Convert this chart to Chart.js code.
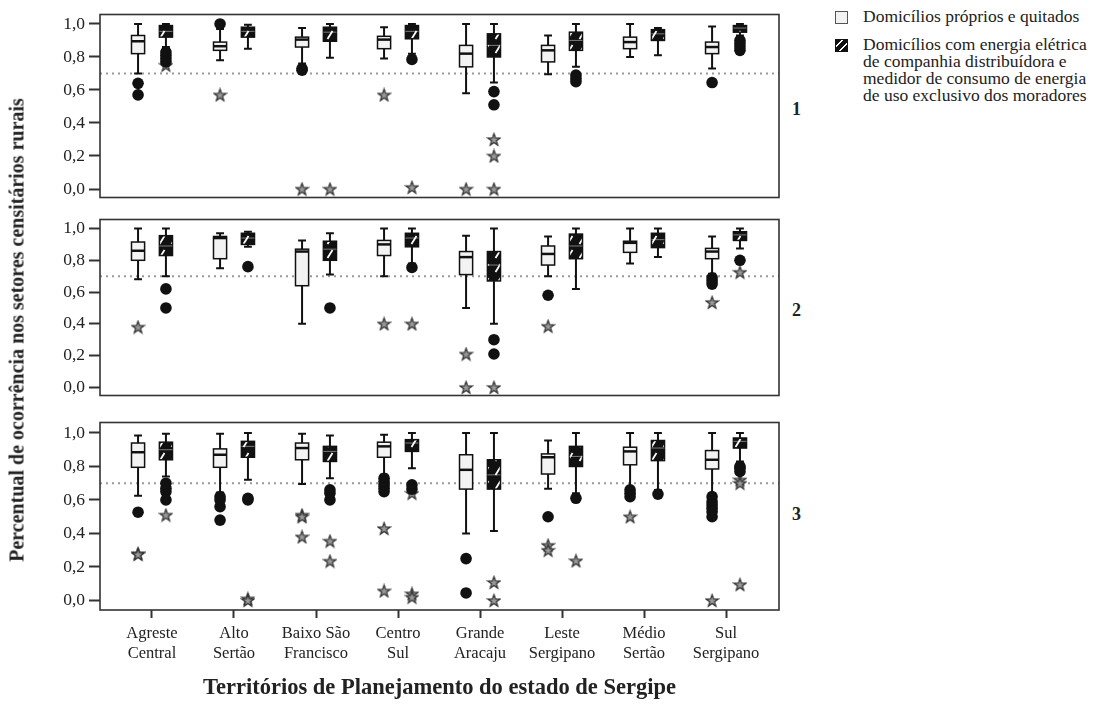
<!DOCTYPE html>
<html>
<head>
<meta charset="utf-8">
<script src="https://cdn.jsdelivr.net/npm/chart.js@4.4.1/dist/chart.umd.min.js"></script>
<style>
  body { margin: 0; width: 1099px; height: 704px; position: relative; overflow: hidden; background: #fff;
         font-family: "Liberation Serif", serif; color: #222; }
  canvas { position: absolute; left: 0; }
  .txt { position: absolute; white-space: nowrap; }
  .ytitle { left: 17px; top: 330px; transform: translate(-50%, -50%) rotate(-90deg); font-weight: bold; font-size: 20px; }
  .num { left: 792px; font-weight: bold; font-size: 18px; }
  .leg { left: 863px; font-size: 17.5px; line-height: 17px; }
  .sw { position: absolute; left: 835px; width: 11px; height: 11px; border: 1px solid #555; }
</style>
</head>
<body>
<canvas id="p1" width="790" height="212" style="top:0px"></canvas>
<canvas id="p2" width="790" height="205" style="top:205px"></canvas>
<canvas id="p3" width="790" height="296" style="top:408px"></canvas>

<div class="txt ytitle">Percentual de ocorrência nos setores censitários rurais</div>
<div class="txt num" style="top:99px">1</div>
<div class="txt num" style="top:300px">2</div>
<div class="txt num" style="top:504px">3</div>

<div class="sw" style="top:11px;background:#f2f2f2"></div>
<div class="sw" style="top:39px;background:repeating-linear-gradient(135deg,#111 0 4px,#fff 4px 5.5px);border-color:#111"></div>
<div class="txt leg" style="top:8px">Domicílios próprios e quitados</div>
<div class="txt leg" style="top:36px">Domicílios com energia elétrica<br>de companhia distribuídora e<br>medidor de consumo de energia<br>de uso exclusivo dos moradores</div>

<script>
// territórios (eixo x)
const territorios = [['Agreste', 'Central'], ['Alto', 'Sertão'], ['Baixo São', 'Francisco'], ['Centro', 'Sul'],
  ['Grande', 'Aracaju'], ['Leste', 'Sergipano'], ['Médio', 'Sertão'], ['Sul', 'Sergipano']];
const yTicks = [0, 0.2, 0.4, 0.6, 0.8, 1.0];
const referencia = 0.7;

// caixas: [bigode inferior, Q1, mediana, Q3, bigode superior]
const p1Proprios = [[0.70, 0.82, 0.895, 0.93, 1.0], [0.78, 0.84, 0.865, 0.89, 0.97], [0.76, 0.86, 0.905, 0.92, 0.975],
  [0.79, 0.85, 0.905, 0.925, 0.98], [0.58, 0.74, 0.82, 0.87, 1.0], [0.695, 0.77, 0.84, 0.87, 0.93],
  [0.80, 0.85, 0.89, 0.92, 1.0], [0.73, 0.82, 0.86, 0.89, 0.985]];
const p1Energia = [[0.86, 0.92, 0.955, 0.99, 1.0], [0.85, 0.92, 0.955, 0.98, 0.995], [0.795, 0.895, 0.95, 0.98, 1.0],
  [0.82, 0.91, 0.955, 0.99, 1.0], [0.645, 0.80, 0.87, 0.94, 1.0], [0.74, 0.84, 0.90, 0.95, 1.0],
  [0.81, 0.90, 0.94, 0.965, 0.975], [0.93, 0.95, 0.975, 0.99, 1.0]];
const p2Proprios = [[0.68, 0.80, 0.86, 0.915, 1.0], [0.75, 0.81, 0.94, 0.95, 0.97], [0.40, 0.64, 0.855, 0.87, 0.925],
  [0.70, 0.83, 0.90, 0.925, 1.0], [0.50, 0.71, 0.82, 0.855, 0.955], [0.70, 0.77, 0.84, 0.89, 0.95],
  [0.78, 0.85, 0.91, 0.92, 1.0], [0.715, 0.81, 0.855, 0.875, 0.95]];
const p2Energia = [[0.70, 0.83, 0.89, 0.955, 1.0], [0.885, 0.90, 0.94, 0.97, 0.98], [0.71, 0.80, 0.87, 0.92, 0.97],
  [0.78, 0.885, 0.94, 0.97, 1.0], [0.40, 0.67, 0.77, 0.855, 1.0], [0.62, 0.81, 0.89, 0.965, 1.0],
  [0.82, 0.88, 0.93, 0.97, 1.0], [0.875, 0.925, 0.96, 0.98, 1.0]];
const p3Proprios = [[0.625, 0.795, 0.885, 0.94, 0.985], [0.645, 0.795, 0.87, 0.905, 0.995], [0.695, 0.84, 0.91, 0.94, 0.995],
  [0.75, 0.855, 0.92, 0.945, 0.99], [0.40, 0.665, 0.78, 0.87, 1.0], [0.667, 0.755, 0.855, 0.875, 0.955],
  [0.67, 0.81, 0.89, 0.915, 1.0], [0.64, 0.785, 0.84, 0.895, 1.0]];
const p3Energia = [[0.74, 0.84, 0.90, 0.945, 0.995], [0.72, 0.855, 0.92, 0.95, 1.0], [0.73, 0.83, 0.89, 0.92, 0.985],
  [0.79, 0.89, 0.94, 0.96, 1.0], [0.415, 0.665, 0.75, 0.84, 1.0], [0.64, 0.80, 0.86, 0.92, 1.0],
  [0.66, 0.835, 0.91, 0.955, 1.0], [0.83, 0.91, 0.95, 0.97, 1.0]];

// outliers (círculos) e extremos (estrelas)
const p1ProOut = [[0.64, 0.57], [1.0], [0.73, 0.72], [], [], [], [], [0.645]];
const p1ProExt = [[], [0.57], [0.0], [0.57], [0.0], [], [], []];
const p1EneOut = [[0.83, 0.81, 0.79, 0.77], [], [], [0.785], [0.59, 0.51], [0.69, 0.67, 0.65], [], [0.90, 0.88, 0.86, 0.84]];
const p1EneExt = [[0.75], [], [0.0], [0.01], [0.30, 0.20, 0.0], [], [], []];
const p2ProOut = [[], [], [], [], [], [0.58], [], [0.69, 0.67, 0.65]];
const p2ProExt = [[0.38], [], [], [0.40], [0.21, 0.0], [0.385], [], [0.535]];
const p2EneOut = [[0.62, 0.50], [0.76], [0.50], [0.755], [0.30, 0.21], [], [], [0.80]];
const p2EneExt = [[], [], [], [0.40], [0.0], [], [], [0.725]];
const p3ProOut = [[0.527], [0.62, 0.60, 0.56, 0.48], [], [0.73, 0.71, 0.69, 0.67, 0.65], [0.25, 0.045], [0.50],
  [0.66, 0.64, 0.62], [0.62, 0.59, 0.57, 0.55, 0.53, 0.50]];
const p3ProExt = [[0.28, 0.275], [], [0.51, 0.50, 0.38], [0.43, 0.057], [], [0.33, 0.30], [0.50], [0.0]];
const p3EneOut = [[0.70, 0.67, 0.65, 0.60], [0.61, 0.60], [0.66, 0.64, 0.60], [0.69, 0.665], [], [0.61], [0.635],
  [0.80, 0.79, 0.77]];
const p3EneExt = [[0.51], [0.01, 0.0], [0.355, 0.235], [0.64, 0.04, 0.02], [0.108, 0.0], [0.237], [], [0.72, 0.70, 0.095]];

const deslocamento = [-0.17, 0.17];
const meiaLargura = 0.08;
const fonte = 'Liberation Serif';

function estrela() {
  const c = document.createElement('canvas');
  c.width = c.height = 15;
  const g = c.getContext('2d');
  g.beginPath();
  for (let k = 0; k < 10; k++) {
    const r = k % 2 ? 2.6 : 6.4;
    const a = -Math.PI / 2 + k * Math.PI / 5;
    g.lineTo(7.5 + r * Math.cos(a), 8 + r * Math.sin(a));
  }
  g.closePath();
  g.fillStyle = '#999';
  g.fill();
  g.strokeStyle = '#2a2a2a';
  g.lineWidth = 1.2;
  g.stroke();
  return c;
}

function hachura(ctx) {
  const t = document.createElement('canvas');
  t.width = 12; t.height = 14;
  const g = t.getContext('2d');
  g.fillStyle = '#111';
  g.fillRect(0, 0, 12, 14);
  g.strokeStyle = '#fff';
  g.lineWidth = 1.8;
  g.beginPath(); g.moveTo(3.5, 11); g.lineTo(8.5, 3); g.stroke();
  return ctx.createPattern(t, 'repeat');
}

function pontos(listas, s) {
  const out = [];
  listas.forEach((vals, i) => vals.forEach(v => out.push({ x: i + deslocamento[s], y: v })));
  return out;
}

function boxPlugin(series) {
  return {
    id: 'boxes',
    beforeDatasetsDraw(chart) {
      const { ctx, chartArea: a, scales: { x, y } } = chart;
      const pat = hachura(ctx);
      ctx.save();
      ctx.strokeStyle = '#999';
      ctx.lineWidth = 2;
      ctx.setLineDash([2, 4]);
      const yr = y.getPixelForValue(referencia);
      ctx.beginPath(); ctx.moveTo(a.left, yr); ctx.lineTo(a.right, yr); ctx.stroke();
      ctx.setLineDash([]);
      series.forEach((serie, s) => {
        serie.forEach((b, i) => {
          const cx = x.getPixelForValue(i + deslocamento[s]);
          const half = x.getPixelForValue(i + meiaLargura) - x.getPixelForValue(i);
          const cap = half * 0.6;
          const [lo, q1, med, q3, hi] = b.map(v => y.getPixelForValue(v));
          ctx.strokeStyle = '#111';
          ctx.lineWidth = 2;
          ctx.beginPath();
          ctx.moveTo(cx, hi); ctx.lineTo(cx, q3);
          ctx.moveTo(cx, q1); ctx.lineTo(cx, lo);
          ctx.moveTo(cx - cap, hi); ctx.lineTo(cx + cap, hi);
          ctx.moveTo(cx - cap, lo); ctx.lineTo(cx + cap, lo);
          ctx.stroke();
          ctx.fillStyle = s === 0 ? '#f3f3f3' : pat;
          ctx.fillRect(cx - half, q3, 2 * half, q1 - q3);
          ctx.lineWidth = 1.5;
          ctx.strokeRect(cx - half, q3, 2 * half, q1 - q3);
          ctx.beginPath();
          ctx.moveTo(cx - half, med); ctx.lineTo(cx + half, med);
          ctx.strokeStyle = s === 0 ? '#111' : 'rgba(255,255,255,0.45)';
          ctx.lineWidth = s === 0 ? 2.5 : 1;
          ctx.stroke();
        });
      });
      ctx.restore();
    },
    afterDraw(chart) {
      const { ctx, chartArea: a } = chart;
      ctx.save();
      ctx.strokeStyle = '#333';
      ctx.lineWidth = 1.6;
      ctx.strokeRect(a.left, a.top, a.right - a.left, a.bottom - a.top);
      ctx.restore();
    }
  };
}

const star = estrela();

function painel(id, boxes, outs, exts, yMin, yMax, pad, showX) {
  const datasets = [];
  [0, 1].forEach(s => {
    datasets.push({ data: pontos(outs[s], s), pointStyle: 'circle', pointRadius: 5.8,
      backgroundColor: '#111', borderColor: '#111', borderWidth: 0 });
    datasets.push({ data: pontos(exts[s], s), pointStyle: star, pointRadius: 7 });
  });
  return new Chart(document.getElementById(id), {
    type: 'scatter',
    data: { datasets },
    options: {
      responsive: false,
      animation: false,
      layout: { padding: pad },
      plugins: { legend: { display: false }, tooltip: { enabled: false } },
      scales: {
        x: {
          type: 'linear', min: -0.634, max: 7.646, display: showX,
          afterBuildTicks: sc => { sc.ticks = territorios.map((t, i) => ({ value: i })); },
          afterFit: sc => { if (showX) sc.height = 94; },
          ticks: { callback: v => territorios[v], autoSkip: false, maxRotation: 0, padding: 5,
            color: '#222', font: { family: fonte, size: 16.5, lineHeight: 1.25 } },
          grid: { drawOnChartArea: false, tickLength: 8, tickWidth: 2, tickColor: '#333' },
          border: { display: false },
          title: { display: true, text: 'Territórios de Planejamento do estado de Sergipe', color: '#222',
            font: { family: fonte, size: 22.5, weight: 'bold' }, padding: { top: 4, bottom: 2 } }
        },
        y: {
          min: yMin, max: yMax,
          afterBuildTicks: sc => { sc.ticks = yTicks.map(v => ({ value: v })); },
          afterFit: sc => { sc.width = 100; },
          ticks: { callback: v => v.toFixed(1).replace('.', ','), padding: 4, color: '#222', autoSkip: false,
            font: { family: fonte, size: 17.5 } },
          grid: { drawOnChartArea: false, tickLength: 11, tickWidth: 2, tickColor: '#333' },
          border: { display: false }
        }
      }
    },
    plugins: [boxPlugin(boxes)]
  });
}

painel('p1', [p1Proprios, p1Energia], [p1ProOut, p1EneOut], [p1ProExt, p1EneExt], -0.0514, 1.0571,
  { top: 9, bottom: 9, right: 11, left: 0 }, false);
painel('p2', [p2Proprios, p2Energia], [p2ProOut, p2EneOut], [p2ProExt, p2EneExt], -0.0511, 1.0568,
  { top: 6, bottom: 4, right: 11, left: 0 }, false);
painel('p3', [p3Proprios, p3Energia], [p3ProOut, p3EneOut], [p3ProExt, p3EneExt], -0.0568, 1.0625,
  { top: 5, bottom: 0, right: 11, left: 0 }, true);
</script>
</body>
</html>
